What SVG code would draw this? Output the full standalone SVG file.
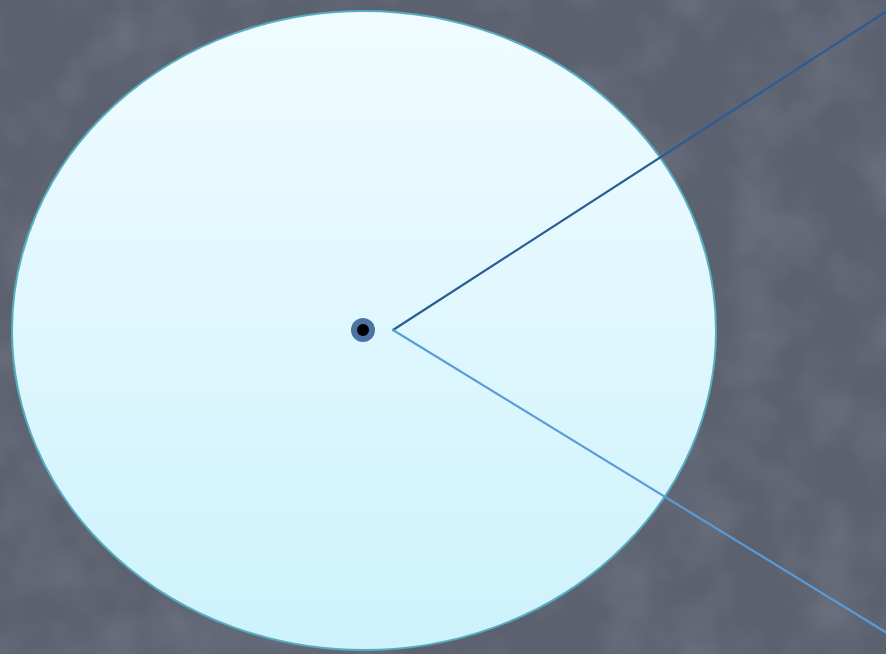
<svg xmlns="http://www.w3.org/2000/svg" width="886" height="654" viewBox="0 0 886 654">
<defs>
<linearGradient id="fillGrad" x1="0" y1="0" x2="0" y2="1">
<stop offset="0" stop-color="#f0fcff"/>
<stop offset="1" stop-color="#cdf2fc"/>
</linearGradient>
<filter id="noise" x="0" y="0" width="100%" height="100%">
<feTurbulence type="fractalNoise" baseFrequency="0.015" numOctaves="3" seed="4" result="t"/>
<feColorMatrix in="t" type="matrix" values="0 0 0 0 0.40  0 0 0 0 0.42  0 0 0 0 0.49  0 0 0 1.2 -0.5" result="c"/>
<feComposite in="c" in2="SourceGraphic" operator="in"/>
</filter>
<style>
.edge{fill:none;stroke-width:2.2;stroke-linecap:round}
</style>
</defs>
<rect x="0" y="0" width="886" height="654" fill="#5c6170"/>
<rect x="0" y="0" width="886" height="654" fill="#6a7080" filter="url(#noise)" opacity="0.35"/>
<g id="circle">
<ellipse cx="364" cy="330.5" rx="352" ry="319.5" fill="url(#fillGrad)" stroke="#55aec0" stroke-width="2"/>
</g>
<g id="center">
<circle cx="363" cy="330" r="12" fill="#4b73a3"/>
<circle cx="363" cy="330" r="6" fill="#000"/>
</g>
<g id="connectors">
<line class="edge" x1="393" y1="330" x2="887" y2="11" stroke="#2b5d95"/>
<line class="edge" x1="393" y1="330" x2="887" y2="633" stroke="#5a9bd9"/>
</g>
</svg>
